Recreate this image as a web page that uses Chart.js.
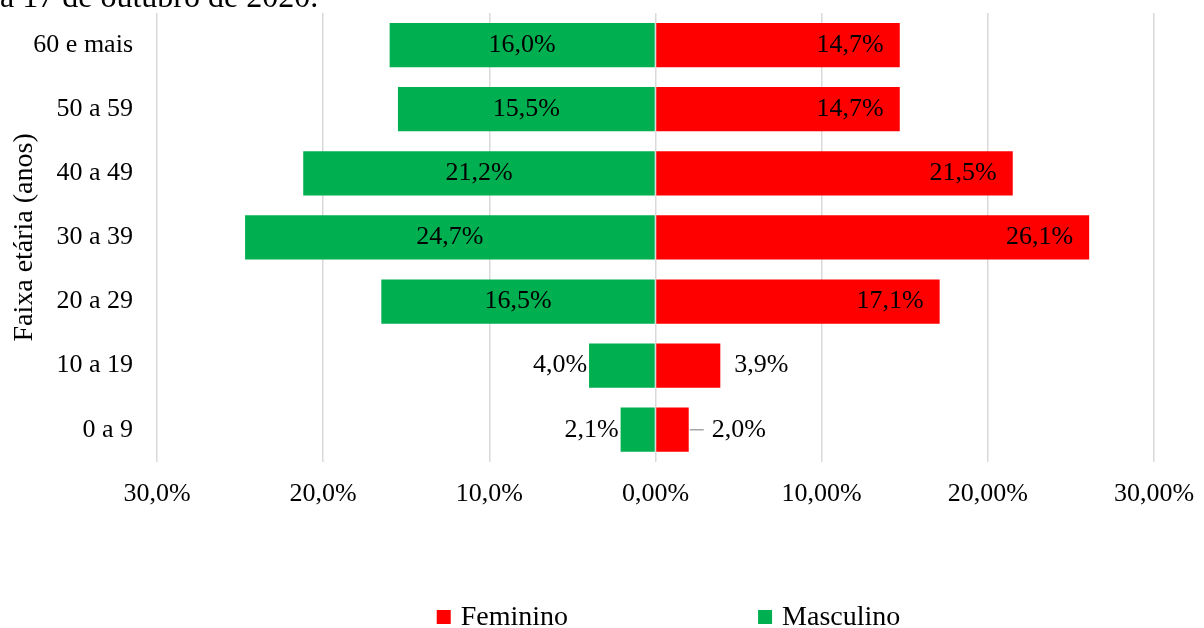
<!DOCTYPE html>
<html>
<head>
<meta charset="utf-8">
<script src="https://cdn.jsdelivr.net/npm/chart.js@4.4.0/dist/chart.umd.min.js"></script>
<style>
  html, body { margin: 0; padding: 0; background: #fff; }
  #frame { width: 1204px; height: 628px; overflow: hidden; position: relative; }
  #wrap { position: absolute; left: 0; top: -40px; width: 1204px; height: 668px; }
</style>
</head>
<body>
<div id="frame"><div id="wrap"><canvas id="chart"></canvas></div></div>
<script>
  // Dados
  var titulo = 'a 17 de outubro de 2020.';
  var faixas = ['60 e mais', '50 a 59', '40 a 49', '30 a 39', '20 a 29', '10 a 19', '0 a 9'];
  var feminino = [14.7, 14.7, 21.5, 26.1, 17.1, 3.9, 2.0];
  var masculino = [-16.0, -15.5, -21.2, -24.7, -16.5, -4.0, -2.1];
  var valoresX = [-30, -20, -10, 0, 10, 20, 30];
  var rotulosX = ['30,0%', '20,0%', '10,0%', '0,00%', '10,00%', '20,00%', '30,00%'];

  var fonte = '"Liberation Serif", "Times New Roman", serif';
  Chart.defaults.color = '#000';
  Chart.defaults.font.family = fonte;

  function formata(v) {
    return Math.abs(v).toFixed(1).replace('.', ',') + '%';
  }

  // Rótulos de dados nas barras (posição no estilo do Excel)
  var rotulosBarras = {
    id: 'rotulosBarras',
    afterDatasetsDraw: function (chart) {
      var ctx = chart.ctx;
      ctx.save();
      ctx.font = '26px ' + fonte;
      ctx.fillStyle = '#000';
      ctx.textBaseline = 'middle';
      chart.data.datasets.forEach(function (ds, di) {
        var meta = chart.getDatasetMeta(di);
        meta.data.forEach(function (bar, i) {
          var v = ds.data[i];
          var txt = formata(v);
          if (v < 0) {
            if (Math.abs(v) >= 10) {
              ctx.textAlign = 'center';
              ctx.fillText(txt, (bar.x + bar.base) / 2, bar.y);
            } else {
              ctx.textAlign = 'right';
              ctx.fillText(txt, bar.x - 2, bar.y);
            }
          } else {
            if (v >= 10) {
              ctx.textAlign = 'right';
              ctx.fillText(txt, bar.x - 16, bar.y);
            } else if (v >= 3) {
              ctx.textAlign = 'left';
              ctx.fillText(txt, bar.x + 14, bar.y);
            } else {
              // linha de chamada
              ctx.strokeStyle = '#a6a6a6';
              ctx.lineWidth = 1.5;
              ctx.beginPath();
              ctx.moveTo(bar.x + 1, bar.y);
              ctx.lineTo(bar.x + 15, bar.y);
              ctx.stroke();
              ctx.textAlign = 'left';
              ctx.fillText(txt, bar.x + 23, bar.y);
            }
          }
        });
      });
      ctx.restore();
    }
  };

  // Legenda desenhada à mão para imitar o espaçamento largo
  var legendaBaixo = {
    id: 'legendaBaixo',
    afterDraw: function (chart) {
      var ctx = chart.ctx;
      var area = chart.chartArea;
      ctx.save();
      ctx.font = '28px ' + fonte;
      ctx.textBaseline = 'middle';
      ctx.textAlign = 'left';
      var caixa = 14, vao = 10, entre = 190;
      var itens = chart.data.datasets.map(function (ds) {
        return { texto: ds.label, cor: ds.backgroundColor, w: caixa + vao + ctx.measureText(ds.label).width };
      });
      var total = itens.reduce(function (s, it) { return s + it.w; }, 0) + entre * (itens.length - 1);
      var x = (area.left + area.right) / 2 + 13 - total / 2;
      var y = chart.height - 11;
      itens.forEach(function (it) {
        ctx.fillStyle = it.cor;
        ctx.fillRect(x, y - caixa / 2, caixa, caixa);
        ctx.fillStyle = '#000';
        ctx.fillText(it.texto, x + caixa + vao, y + 1);
        x += it.w + entre;
      });
      ctx.restore();
    }
  };

  var ctx = document.getElementById('chart').getContext('2d');
  var grafico = new Chart(ctx, {
    type: 'bar',
    data: {
      labels: faixas,
      datasets: [{
        label: 'Feminino',
        data: feminino,
        backgroundColor: '#ff0000',
        barPercentage: 0.69,
        categoryPercentage: 1
      }, {
        label: 'Masculino',
        data: masculino,
        backgroundColor: '#00b050',
        barPercentage: 0.69,
        categoryPercentage: 1
      }]
    },
    plugins: [rotulosBarras, legendaBaixo],
    options: {
      indexAxis: 'y',
      responsive: true,
      maintainAspectRatio: false,
      animation: false,
      layout: { padding: { left: 0, right: 50, top: 0, bottom: 101 } },
      plugins: {
        legend: { display: false },
        tooltip: { enabled: false },
        title: {
          display: true,
          text: titulo,
          align: 'start',
          color: '#000',
          font: { size: 32, weight: 'normal', lineHeight: 1 },
          padding: { top: 23, bottom: -2 }
        }
      },
      scales: {
        x: {
          stacked: true,
          min: -30,
          max: 30,
          ticks: {
            stepSize: 10,
            padding: 17,
            font: { size: 26 },
            maxRotation: 0,
            callback: function (value) {
              var i = valoresX.indexOf(value);
              return i >= 0 ? rotulosX[i] : '';
            }
          },
          grid: { color: '#d9d9d9', lineWidth: 1.5, drawTicks: false },
          border: { display: false },
          afterFit: function (scale) { scale.paddingRight = 0; scale.paddingLeft = 0; }
        },
        y: {
          stacked: true,
          ticks: { padding: 24, font: { size: 26 } },
          grid: { display: false, drawTicks: false },
          border: { display: false },
          title: {
            display: true,
            text: 'Faixa etária (anos)',
            font: { size: 28 },
            padding: { top: 8, bottom: 0 }
          },
          afterFit: function (scale) { scale.width = 157; }
        }
      }
    }
  });
</script>
</body>
</html>
